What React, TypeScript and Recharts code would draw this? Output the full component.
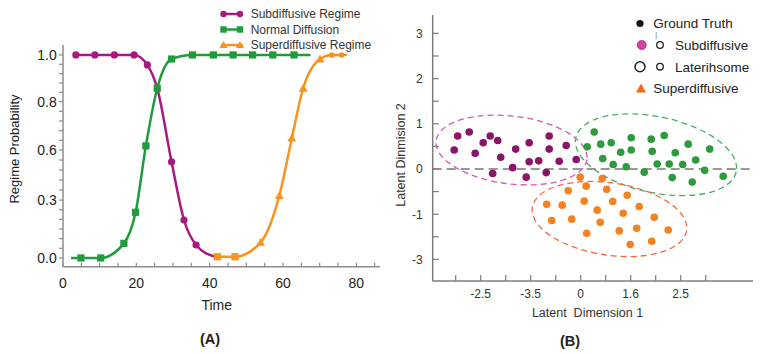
import React from 'react';
import {
  LineChart, Line, XAxis, YAxis, Legend,
  ScatterChart, Scatter, ReferenceArea, ReferenceLine,
} from 'recharts';

const FONT = 'Arial, "Liberation Sans", Helvetica, sans-serif';

// ---------------- Panel A data ----------------
const regimeNames = ['Subdiffusive Regime', 'Normal Diffusion', 'Superdiffusive Regime'];
const regimeColors = ['#a8197f', '#1f9b3b', '#f7931e'];
const regimeMarkers = ['circle', 'square', 'triangle'];

type Pt = { t: number; p: number; m?: string };

const subdiffusive: Pt[] = [
  { t: 3.5, p: 1.0, m: 'circle' },
  { t: 8.7, p: 1.0, m: 'circle' },
  { t: 14.0, p: 1.0, m: 'circle' },
  { t: 19.4, p: 1.0, m: 'circle' },
  { t: 23.0, p: 0.951, m: 'circle' },
  { t: 25.7, p: 0.835 },
  { t: 29.6, p: 0.474, m: 'circle' },
  { t: 33.0, p: 0.187, m: 'circle' },
  { t: 36.3, p: 0.064, m: 'circle' },
  { t: 41.5, p: 0.006 },
];

const normalDiffusion: Pt[] = [
  { t: 2.2, p: 0.0 },
  { t: 4.9, p: 0.0, m: 'square' },
  { t: 10.3, p: 0.0, m: 'square' },
  { t: 16.6, p: 0.072, m: 'square' },
  { t: 19.8, p: 0.225, m: 'square' },
  { t: 22.6, p: 0.552, m: 'square' },
  { t: 25.7, p: 0.836, m: 'square' },
  { t: 29.6, p: 0.98, m: 'square' },
  { t: 35.3, p: 1.0, m: 'square' },
  { t: 41.0, p: 1.0, m: 'square' },
  { t: 46.4, p: 1.0, m: 'square' },
  { t: 51.7, p: 1.0, m: 'square' },
  { t: 57.2, p: 1.0, m: 'square' },
  { t: 63.0, p: 1.0, m: 'square' },
  { t: 67.5, p: 1.0 },
];

const superdiffusive: Pt[] = [
  { t: 42.1, p: 0.006, m: 'square' },
  { t: 46.9, p: 0.006, m: 'square' },
  { t: 53.9, p: 0.077, m: 'triangle' },
  { t: 59.0, p: 0.307, m: 'triangle' },
  { t: 62.4, p: 0.59, m: 'triangle' },
  { t: 65.5, p: 0.836, m: 'triangle' },
  { t: 70.1, p: 0.98, m: 'triangle' },
  { t: 73.3, p: 1.0, m: 'small' },
  { t: 76.0, p: 1.0, m: 'small' },
  { t: 77.4, p: 1.0 },
];

const regimeSeries = [subdiffusive, normalDiffusion, superdiffusive];

const xMajorA = [0, 20, 40, 60, 80];
const xLabelA = ['0', '20', '40', '60', '80'];
const xMinorStepA = 5;
const yMajorA = [0, 0.285, 0.532, 0.77, 1.0];
const yLabelA = ['0.0', '0.3', '0.6', '0.8', '1.0'];
const ySubdivA = [6, 5, 5, 5];

// ---------------- Panel B data ----------------
type XY = { x: number; y: number };
const subClusterPts: XY[] = [
  { x: -2.46, y: 0.73 }, { x: -2.23, y: 0.82 }, { x: -2.53, y: 0.42 }, { x: -2.11, y: 0.35 },
  { x: -1.95, y: 0.58 }, { x: -1.81, y: 0.73 }, { x: -1.66, y: 0.63 }, { x: -1.6, y: 0.26 },
  { x: -1.76, y: -0.1 }, { x: -1.3, y: 0.44 }, { x: -1.36, y: 0.03 }, { x: -1.09, y: -0.18 },
  { x: -1.03, y: 0.58 }, { x: -1.03, y: 0.16 }, { x: -0.84, y: 0.18 }, { x: -0.69, y: -0.08 },
  { x: -0.63, y: 0.73 }, { x: -0.63, y: 0.44 }, { x: -0.43, y: 0.17 }, { x: -0.29, y: 0.52 },
  { x: -0.09, y: 0.21 },
];
const normalClusterPts: XY[] = [
  { x: 0.27, y: 0.82 }, { x: 0.13, y: 0.49 }, { x: 0.4, y: 0.55 }, { x: 0.61, y: 0.58 },
  { x: 0.44, y: 0.23 }, { x: 0.65, y: 0.1 }, { x: 0.8, y: 0.37 }, { x: 1.01, y: 0.69 },
  { x: 1.01, y: 0.42 }, { x: 0.91, y: 0.05 }, { x: 1.27, y: -0.07 }, { x: 1.41, y: 0.66 },
  { x: 1.43, y: 0.39 }, { x: 1.53, y: 0.11 }, { x: 1.67, y: 0.74 }, { x: 1.77, y: 0.11 },
  { x: 1.89, y: 0.36 }, { x: 2.04, y: 0.1 }, { x: 1.83, y: -0.19 }, { x: 2.15, y: 0.55 },
  { x: 2.3, y: 0.2 }, { x: 2.23, y: -0.29 }, { x: 2.48, y: -0.03 }, { x: 2.58, y: 0.44 },
  { x: 2.85, y: -0.16 },
];
const superClusterPts: XY[] = [
  { x: -0.01, y: -0.18 }, { x: 0.43, y: -0.21 }, { x: 0.11, y: -0.38 }, { x: -0.25, y: -0.48 },
  { x: 0.52, y: -0.45 }, { x: 0.93, y: -0.58 }, { x: -0.68, y: -0.78 }, { x: -0.37, y: -0.8 },
  { x: 0.07, y: -0.71 }, { x: 0.64, y: -0.72 }, { x: 1.17, y: -0.83 }, { x: 0.33, y: -0.91 },
  { x: 0.85, y: -0.98 }, { x: -0.58, y: -1.14 }, { x: -0.18, y: -1.11 }, { x: 0.39, y: -1.18 },
  { x: 1.47, y: -1.07 }, { x: 1.12, y: -1.31 }, { x: 0.77, y: -1.37 }, { x: 0.12, y: -1.42 },
  { x: 1.75, y: -1.35 }, { x: 0.99, y: -1.67 }, { x: 1.42, y: -1.6 },
];
const clusterSeries = [subClusterPts, normalClusterPts, superClusterPts];
const clusterColors = ['#8b1467', '#2b9b3c', '#f5821f'];

const clusterEllipses = [
  { cx: -1.384, cy: 0.42, rx: 1.52, ry: 0.75, tilt: 7 },
  { cx: 1.506, cy: 0.315, rx: 1.64, ry: 0.84, tilt: 12 },
  { cx: 0.576, cy: -1.106, rx: 1.56, ry: 0.8, tilt: 8.5 },
];
const ellipseColors = ['#d05ab4', '#4aae62', '#f2663c'];

const xMajorB = [-2, -1, 0, 1, 2];
const xLabelB = ['-2.5', '-3.5', '0', '1.6', '2.5'];
const xMinorB = [-2.5, -1.5, -0.5, 0.5, 1.5, 2.5];
const yMajorB = [3, 2, 1, 0, -1, -2];
const yLabelB = ['3', '2', '1', '0', '-1', '-3'];
const yMinorB = [2.5, 1.5, 0.5, -0.5, -1.5];

const legendBNames = ['Ground Truth', 'Subdiffusive', 'Laterihsome', 'Superdiffusive'];

// ---------------- helpers ----------------
const near = (a: number, b: number) => Math.abs(a - b) < 1e-6;
const labelOf = (v: number, majors: number[], labels: string[]) => {
  const i = majors.findIndex((m) => near(m, v));
  return i >= 0 ? labels[i] : null;
};

const xTicksA: number[] = [];
for (let v = 0; v <= 85 + 1e-9; v += xMinorStepA) xTicksA.push(v);

const yTicksA: number[] = [];
for (let i = 0; i < yMajorA.length - 1; i++) {
  const n = ySubdivA[i];
  for (let k = 0; k < n; k++) {
    yTicksA.push(k === 0 ? yMajorA[i] : yMajorA[i] + ((yMajorA[i + 1] - yMajorA[i]) * k) / n);
  }
}
yTicksA.push(yMajorA[yMajorA.length - 1]);

const xTicksB = [...xMajorB, ...xMinorB].sort((a, b) => a - b);
const yTicksB = [...yMajorB, ...yMinorB].sort((a, b) => a - b);

const AX_A = '#8c8c8c';
const AX_B = '#7c7c7c';

const XTickA = (props: any) => {
  const { x, y, payload } = props;
  const lab = labelOf(payload.value, xMajorA, xLabelA);
  return (
    <g>
      <line x1={x} y1={y} x2={x} y2={y - 4} stroke={AX_A} strokeWidth={1.2} />
      {lab !== null && (
        <text x={x} y={y + 21.5} textAnchor="middle" fontSize={14} fill="#222" fontFamily={FONT}>{lab}</text>
      )}
    </g>
  );
};

const YTickA = (props: any) => {
  const { x, y, payload } = props;
  const lab = labelOf(payload.value, yMajorA, yLabelA);
  return (
    <g>
      <line x1={x} y1={y} x2={x - 4} y2={y} stroke={AX_A} strokeWidth={1.2} />
      {lab !== null && (
        <text x={x - 6.3} y={y} dy="0.36em" textAnchor="end" fontSize={14} fill="#222" fontFamily={FONT}>{lab}</text>
      )}
    </g>
  );
};

const XTickB = (props: any) => {
  const { x, y, payload } = props;
  const lab = labelOf(payload.value, xMajorB, xLabelB);
  return (
    <g>
      <line x1={x} y1={y} x2={x} y2={y - 6} stroke={AX_B} strokeWidth={1.2} />
      {lab !== null && (
        <text x={x} y={y + 16.5} textAnchor="middle" fontSize={12} fill="#333" fontFamily={FONT}>{lab}</text>
      )}
    </g>
  );
};

const YTickB = (props: any) => {
  const { x, y, payload } = props;
  const lab = labelOf(payload.value, yMajorB, yLabelB);
  return (
    <g>
      <line x1={x} y1={y} x2={x + 6} y2={y} stroke={AX_B} strokeWidth={1.2} />
      {lab !== null && (
        <text x={x - 10} y={y} dy="0.36em" textAnchor="end" fontSize={12} fill="#333" fontFamily={FONT}>{lab}</text>
      )}
    </g>
  );
};

const makeDot = (color: string) => (props: any) => {
  const { cx, cy, payload, index } = props;
  const k = `d${index}`;
  if (!payload || !payload.m || cx == null || cy == null) return <g key={k} />;
  if (payload.m === 'square')
    return <rect key={k} x={cx - 3.6} y={cy - 3.6} width={7.2} height={7.2} fill={color} />;
  if (payload.m === 'triangle')
    return <polygon key={k} points={`${cx},${cy - 4.6} ${cx + 4.4},${cy + 3.4} ${cx - 4.4},${cy + 3.4}`} fill={color} />;
  if (payload.m === 'small') return <circle key={k} cx={cx} cy={cy} r={2.8} fill={color} />;
  return <circle key={k} cx={cx} cy={cy} r={3.6} fill={color} />;
};

const markerIcon = (kind: string, x: number, y: number, color: string) => {
  if (kind === 'square') return <rect x={x - 3.2} y={y - 3.2} width={6.4} height={6.4} fill={color} />;
  if (kind === 'triangle')
    return <polygon points={`${x},${y - 4} ${x + 4},${y + 3} ${x - 4},${y + 3}`} fill={color} />;
  return <circle cx={x} cy={y} r={3.2} fill={color} />;
};

const LegendA = () => (
  <svg width={165} height={50} style={{ overflow: 'visible', display: 'block' }}>
    {regimeNames.map((name, i) => {
      const y = 10 + i * 15.5;
      return (
        <g key={name}>
          <line x1={6} y1={y} x2={28} y2={y} stroke={regimeColors[i]} strokeWidth={2.5} />
          {markerIcon(regimeMarkers[i], 8.5, y, regimeColors[i])}
          {markerIcon(regimeMarkers[i], 25, y, regimeColors[i])}
          <text x={35.7} y={y} dy="0.36em" fontSize={12} fill="#333" fontFamily={FONT}>{name}</text>
        </g>
      );
    })}
  </svg>
);

const LegendB = () => (
  <svg width={135} height={90} style={{ overflow: 'visible', display: 'block' }}>
    <circle cx={10} cy={13.5} r={3.6} fill="#111" />
    <text x={23.3} y={13.5} dy="0.36em" fontSize={13.5} fill="#222" fontFamily={FONT}>{legendBNames[0]}</text>
    <text x={25.2} y={27} fontSize={7} fill="#555" fontFamily={FONT}>|</text>
    <circle cx={11.7} cy={35} r={4.5} fill="#d6449e" stroke="#a3287c" strokeWidth={0.8} />
    <circle cx={30} cy={35} r={3.3} fill="none" stroke="#222" strokeWidth={1.3} />
    <text x={45} y={35} dy="0.36em" fontSize={13.5} fill="#222" fontFamily={FONT}>{legendBNames[1]}</text>
    <circle cx={10} cy={56.7} r={5} fill="none" stroke="#222" strokeWidth={1.5} />
    <circle cx={30} cy={56.7} r={3.3} fill="none" stroke="#222" strokeWidth={1.3} />
    <text x={45} y={56.7} dy="0.36em" fontSize={13.5} fill="#222" fontFamily={FONT}>{legendBNames[2]}</text>
    <polygon points="11,73.5 16,82.5 6,82.5" fill="#f06a1a" />
    <text x={23.3} y={78} dy="0.36em" fontSize={13.5} fill="#222" fontFamily={FONT}>{legendBNames[3]}</text>
  </svg>
);

const makeEllipse = (tilt: number, color: string) => (props: any) => {
  const { x, y, width, height } = props;
  const cx = x + width / 2;
  const cy = y + height / 2;
  return (
    <ellipse
      cx={cx} cy={cy} rx={Math.abs(width) / 2} ry={Math.abs(height) / 2}
      transform={`rotate(${tilt} ${cx} ${cy})`}
      fill="none" stroke={color} strokeWidth={1.3} strokeDasharray="6 4"
    />
  );
};

const makeScatterDot = (color: string) => (props: any) => (
  <circle cx={props.cx} cy={props.cy} r={3.8} fill={color} />
);

export default function App() {
  return (
    <div style={{ position: 'absolute', left: 0, top: 0, width: 767, height: 354, background: '#fff', overflow: 'hidden' }}>
      <div style={{ position: 'absolute', left: 0, top: 0 }}>
        <LineChart width={385} height={354} margin={{ top: 45, right: 5, bottom: 57.3, left: 0 }}>
          <XAxis
            type="number" dataKey="t" domain={[0, 86.45]} ticks={xTicksA} interval={0}
            tickSize={0} tickMargin={0} tickLine={false} tick={XTickA} height={30} allowDataOverflow
            axisLine={{ stroke: AX_A, strokeWidth: 1.5 }}
            label={() => (
              <text x={216.7} y={310} textAnchor="middle" fontSize={14} fill="#222" fontFamily={FONT}>Time</text>
            )}
          />
          <YAxis
            type="number" dataKey="p" domain={[-0.043, 1.049]} ticks={yTicksA} interval={0}
            tickSize={0} tickMargin={0} tickLine={false} tick={YTickA} width={63} allowDataOverflow
            axisLine={{ stroke: AX_A, strokeWidth: 1.5 }}
            label={() => (
              <text x={14} y={149} dy="0.36em" textAnchor="middle" fontSize={13} fill="#222" fontFamily={FONT}
                transform="rotate(-90 14 149)">Regime Probability</text>
            )}
          />
          <Legend
            layout="vertical" align="center" verticalAlign="middle"
            wrapperStyle={{ position: 'absolute', left: 215, top: 4, width: 165, height: 50 }}
            content={() => <LegendA />}
          />
          {regimeSeries.map((d, i) => (
            <Line
              key={regimeNames[i]} name={regimeNames[i]} data={d} dataKey="p" type="monotone"
              stroke={regimeColors[i]} strokeWidth={2.5} dot={makeDot(regimeColors[i])}
              activeDot={false} isAnimationActive={false}
            />
          ))}
        </LineChart>
      </div>

      <div style={{ position: 'absolute', left: 385, top: 0 }}>
        <ScatterChart width={382} height={354} margin={{ top: 15, right: 14, bottom: 43, left: 0 }}>
          <XAxis
            type="number" dataKey="x" domain={[-2.96, 3.446]} ticks={xTicksB} interval={0}
            tickSize={0} tickMargin={0} tickLine={false} tick={XTickB} height={30} allowDataOverflow
            axisLine={{ stroke: AX_B, strokeWidth: 1.5 }}
            label={() => (
              <text x={202.5} y={317} textAnchor="middle" fontSize={12.5} fill="#333" fontFamily={FONT}
                style={{ whiteSpace: 'pre' }}>{'Latent  Dimension 1'}</text>
            )}
          />
          <YAxis
            type="number" dataKey="y" domain={[-2.478, 3.407]} ticks={yTicksB} interval={0}
            tickSize={0} tickMargin={0} tickLine={false} tick={YTickB} width={47.7} allowDataOverflow
            axisLine={{ stroke: AX_B, strokeWidth: 1.5 }}
            label={() => (
              <text x={15.7} y={155} dy="0.36em" textAnchor="middle" fontSize={12.5} fill="#333" fontFamily={FONT}
                transform="rotate(-90 15.7 155)">Latent Dinmision 2</text>
            )}
          />
          <ReferenceLine y={0} stroke="#777" strokeWidth={1.4} strokeDasharray="9 5" ifOverflow="visible" />
          {clusterEllipses.map((e, i) => (
            <ReferenceArea
              key={`e${i}`} x1={e.cx - e.rx} x2={e.cx + e.rx} y1={e.cy - e.ry} y2={e.cy + e.ry}
              ifOverflow="visible" shape={makeEllipse(e.tilt, ellipseColors[i])}
            />
          ))}
          {clusterSeries.map((d, i) => (
            <Scatter key={`s${i}`} data={d} fill={clusterColors[i]} shape={makeScatterDot(clusterColors[i])}
              isAnimationActive={false} />
          ))}
          <Legend
            layout="vertical" align="center" verticalAlign="middle"
            wrapperStyle={{ position: 'absolute', left: 245, top: 10, width: 135, height: 90 }}
            content={() => <LegendB />}
          />
        </ScatterChart>
      </div>

      <svg width={767} height={354} style={{ position: 'absolute', left: 0, top: 0, pointerEvents: 'none' }}>
        <text x={210} y={344} textAnchor="middle" fontSize={14.5} fontWeight="bold" fill="#222" fontFamily={FONT}>(A)</text>
        <text x={570} y={345.5} textAnchor="middle" fontSize={14.5} fontWeight="bold" fill="#222" fontFamily={FONT}>(B)</text>
      </svg>
    </div>
  );
}
